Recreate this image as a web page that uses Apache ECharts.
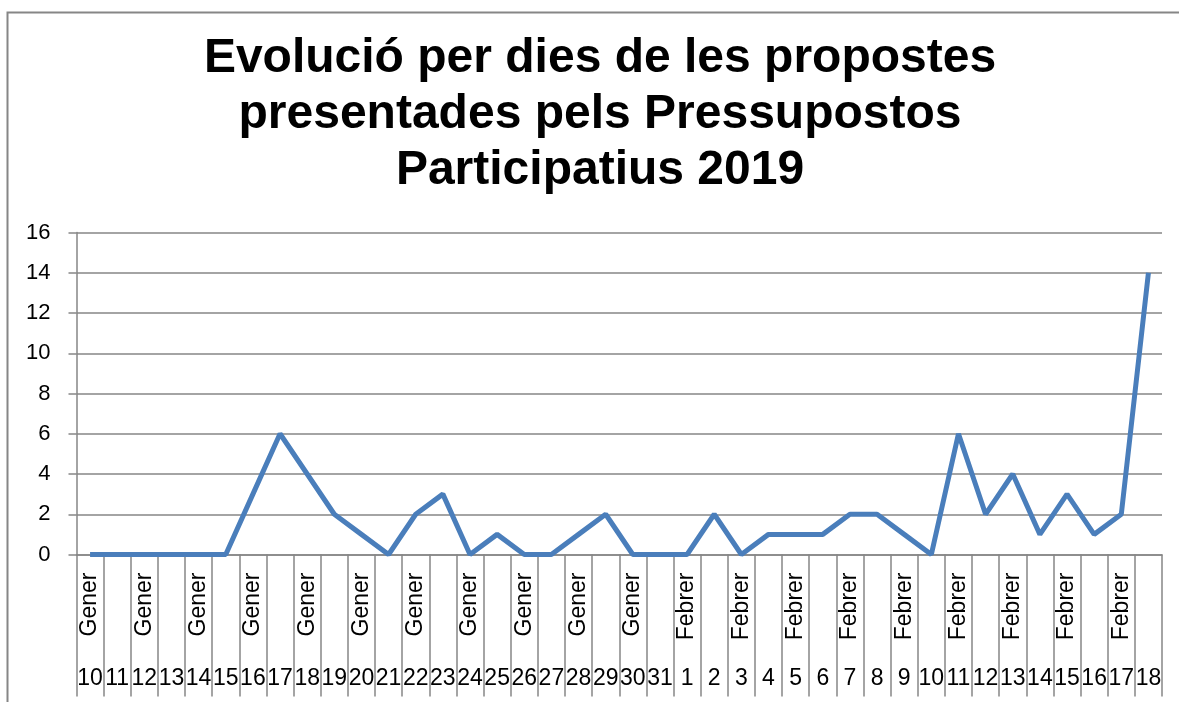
<!DOCTYPE html>
<html>
<head>
<meta charset="utf-8">
<script src="https://cdn.jsdelivr.net/npm/echarts@6/dist/echarts.min.js"></script>
<style>
  html, body { margin: 0; padding: 0; background: #fff; }
  #chart { width: 1179px; height: 702px; }
</style>
</head>
<body>
<div id="chart"></div>
<script>
// dies de gener i febrer
const months = [
  'Gener','Gener','Gener','Gener','Gener','Gener','Gener','Gener','Gener','Gener','Gener',
  'Gener','Gener','Gener','Gener','Gener','Gener','Gener','Gener','Gener','Gener','Gener',
  'Febrer','Febrer','Febrer','Febrer','Febrer','Febrer','Febrer','Febrer','Febrer',
  'Febrer','Febrer','Febrer','Febrer','Febrer','Febrer','Febrer','Febrer','Febrer'
];
const days = [
  '10','11','12','13','14','15','16','17','18','19','20','21','22','23','24','25',
  '26','27','28','29','30','31',
  '1','2','3','4','5','6','7','8','9','10','11','12','13','14','15','16','17','18'
];
const propostes = [
  0, 0, 0, 0, 0, 0, 3, 6, 4, 2, 1, 0, 2, 3, 0, 1, 0, 0, 1, 2, 0, 0,
  0, 2, 0, 1, 1, 1, 2, 2, 1, 0, 6, 2, 4, 1, 3, 1, 2, 14
];

const gray = '#868686';
const font = 'Liberation Sans';

const chart = echarts.init(document.getElementById('chart'));
chart.setOption({
  animation: false,
  title: {
    text: 'Evolució per dies de les propostes\npresentades pels Pressupostos\nParticipatius 2019',
    left: 600,
    textAlign: 'center',
    top: 31,
    padding: 0,
    textStyle: {
      fontFamily: font,
      fontWeight: 'bold',
      fontSize: 48,
      lineHeight: 56,
      color: '#000'
    }
  },
  graphic: [{
    type: 'rect',
    shape: { x: 7.5, y: 12.5, width: 1300, height: 800 },
    style: { fill: 'none', stroke: gray, lineWidth: 2 },
    silent: true
  }],
  grid: { left: 76.5, right: 17, top: 232.5, bottom: 147.5 },
  xAxis: [{
    type: 'category',
    data: months,
    position: 'bottom',
    boundaryGap: true,
    axisLine: { lineStyle: { color: gray, width: 1.5 } },
    axisTick: { show: true, interval: 0, length: 142, lineStyle: { color: gray, width: 1.5 } },
    axisLabel: {
      interval: 1, rotate: 90, margin: 18,
      fontFamily: font, fontSize: 23, color: '#000'
    }
  }, {
    type: 'category',
    data: days,
    position: 'bottom',
    boundaryGap: true,
    axisLine: { show: false },
    axisTick: { show: false },
    axisLabel: {
      interval: 0, margin: 113,
      fontFamily: font, fontSize: 23, color: '#000'
    }
  }],
  yAxis: {
    type: 'value',
    min: 0, max: 16, interval: 2,
    axisLine: { show: true, lineStyle: { color: gray, width: 1.5 } },
    axisTick: { show: true, inside: false, length: 8, lineStyle: { color: gray, width: 1.5 } },
    splitLine: { lineStyle: { color: gray, width: 1.5 } },
    axisLabel: { margin: 26, fontFamily: font, fontSize: 22, color: '#000' }
  },
  series: [{
    type: 'line',
    data: propostes,
    xAxisIndex: 0,
    symbol: 'none',
    lineStyle: { color: '#4a7ebb', width: 5 }
  }]
});
</script>
</body>
</html>
